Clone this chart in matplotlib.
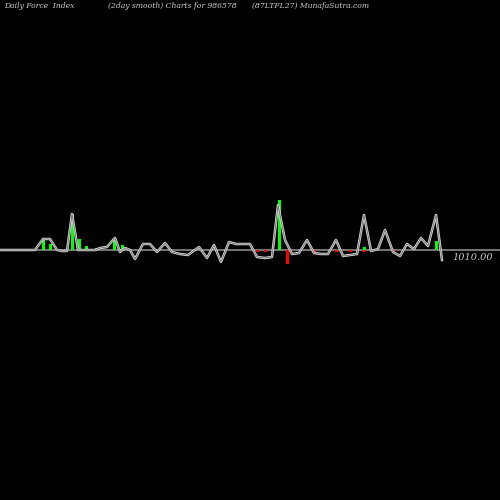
import matplotlib
matplotlib.use("Agg")
import matplotlib.pyplot as plt

line_x = [0,35,43,50,57,62,67,72,78,85,95,100,107,113,115,120,125,130,135,143,150,157,165,172,180,188,199,207,214,221,229,236,250,257,265,272,278,285,292,299,307,314,321,328,336,343,350,357,364,371,378,385,393,400,407,414,421,428,436,442]
line_v = [0,0,11,11,0,-1,-1,36,0,0,0,2,3,10,12,-2,2,0,-9,6,6,-2,7,-2,-4,-5,3,-8,5,-12,8,6,6,-7,-8,-7,45,10,-4,-3,10,-3,-4,-4,10,-6,-5,-4,35,-1,1,20,-2,-6,6,1,12,4,35,-10]
gbar_x = [43,50,72,79,86,96,114,122,129,279,364,436]
gbar_v = [11,6,36,11,4,2,12,5,1,50,3,9]
rbar_x = [157,257,265,287,314,336,350,364,393]
rbar_v = [-2,-2,-2,-14,-2,-2,-2,-2,-2]

fig = plt.figure(figsize=(5,5), dpi=100, facecolor='black')
ax = fig.add_axes([0,0,1,1])
ax.set_facecolor('black')
ax.set_xlim(0,500); ax.set_ylim(-250,250)
ax.axis('off')
ax.axhline(0, color='#888888', lw=1.2, zorder=1)
ax.bar(gbar_x, gbar_v, width=3, color='#00ff00', zorder=2)
ax.bar(rbar_x, rbar_v, width=3, color='#ff0000', zorder=2)
ax.plot(line_x, line_v, color='#dddddd', lw=1.8, zorder=3)
ax.plot(line_x, line_v, color='#777777', lw=0.7, zorder=4)
ax.text(452, -7, '1010.00', color='#cccccc', fontsize=7, style='italic', family='DejaVu Serif', va='center')
for x, t in [(4,'Daily Force  Index'),(108,'(2day smooth) Charts for 986578'),(252,'(87LTFL27) MunafaSutra.com')]:
    ax.text(x, 244, t, color='#cccccc', fontsize=5.5, style='italic', family='DejaVu Serif', va='center')
fig.savefig('out.png', dpi=100, facecolor='black')
